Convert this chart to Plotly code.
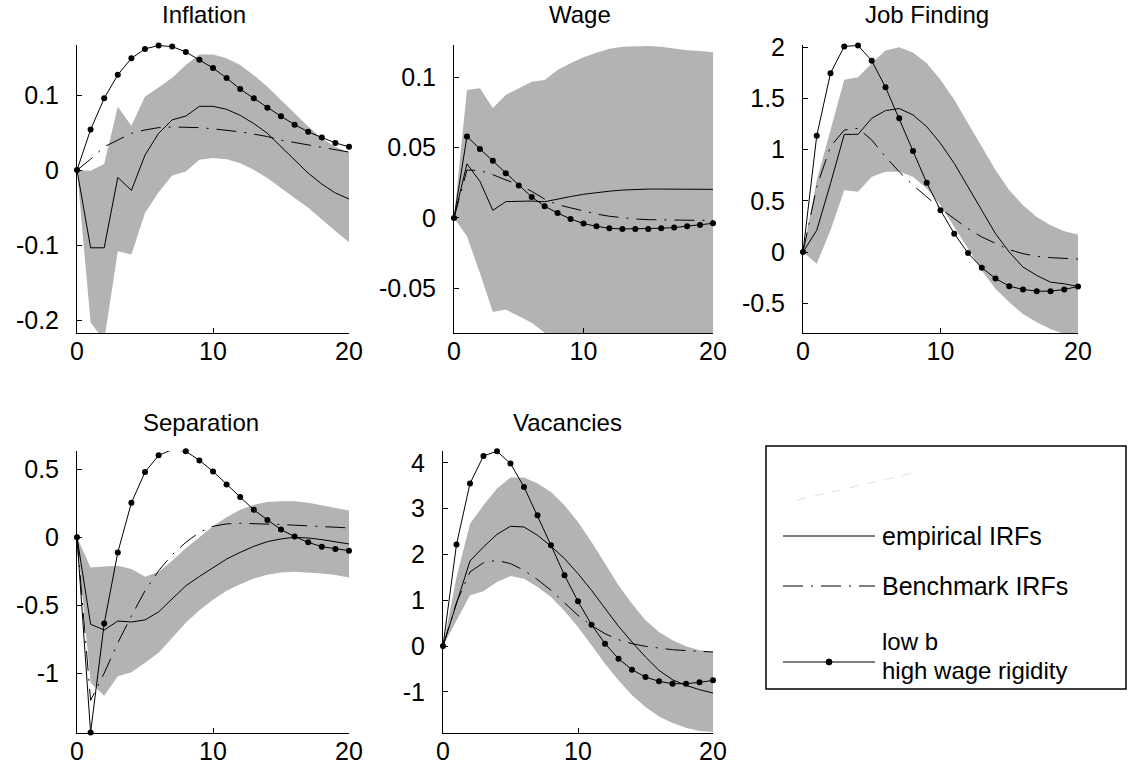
import plotly.graph_objects as go

W, H = 1128, 773
t = list(range(21))

# ---------------- data ----------------
infl_emp = [0, -0.1035, -0.1035, -0.0097, -0.027, 0.020, 0.049, 0.067, 0.072, 0.085, 0.085,
            0.081, 0.073, 0.062, 0.049, 0.031, 0.0137, -0.004, -0.0186, -0.0305, -0.0385]
infl_bench = [0, 0.0146, 0.031, 0.040, 0.049, 0.0535, 0.0566, 0.0575, 0.0575, 0.0566, 0.055,
              0.0535, 0.051, 0.048, 0.0447, 0.040, 0.0367, 0.033, 0.030, 0.027, 0.024]
infl_lowb = [0, 0.054, 0.0956, 0.127, 0.149, 0.1615, 0.166, 0.1646, 0.1575, 0.147, 0.136,
             0.1226, 0.108, 0.0956, 0.0832, 0.0717, 0.0606, 0.051, 0.0434, 0.0363, 0.031]
infl_up = [0, -0.001, 0.008, 0.0845, 0.059, 0.098, 0.110, 0.123, 0.140, 0.154, 0.154,
           0.149, 0.140, 0.1265, 0.111, 0.093, 0.0757, 0.058, 0.0425, 0.031, 0.0235]
infl_lo = [0, -0.203, -0.227, -0.108, -0.1125, -0.057, -0.0296, -0.007, -0.002, 0.0137, 0.016,
           0.0146, 0.0093, 0.0004, -0.0106, -0.024, -0.037, -0.050, -0.066, -0.081, -0.096]

wage_emp = [0, 0.0384, 0.026, 0.0054, 0.0116, 0.0118, 0.012, 0.0115, 0.0135, 0.0152, 0.0168,
            0.018, 0.019, 0.0198, 0.0203, 0.0205, 0.0205, 0.0205, 0.0203, 0.0203, 0.0203]
wage_bench = [0, 0.034, 0.0337, 0.0307, 0.027, 0.0236, 0.0189, 0.0134, 0.0094, 0.0071, 0.0047,
              0.0028, 0.0012, 0.0, -0.0007, -0.0012, -0.0014, -0.0017, -0.0017, -0.0017, -0.0017]
wage_lowb = [0, 0.0578, 0.049, 0.0406, 0.0318, 0.0231, 0.0149, 0.0083, 0.0035, -0.0007, -0.004,
             -0.0059, -0.0073, -0.0078, -0.0078, -0.0078, -0.0073, -0.0068, -0.0059, -0.005, -0.0038]
wage_up = [0, 0.0908, 0.092, 0.078, 0.0873, 0.092, 0.0967, 0.0979, 0.105, 0.1097, 0.114,
           0.1172, 0.120, 0.1215, 0.122, 0.122, 0.1215, 0.120, 0.119, 0.1184, 0.1175]
wage_lo = [0, -0.013, -0.039, -0.0667, -0.065, -0.0696, -0.0743, -0.0814, -0.0861, -0.088, -0.088,
           -0.088, -0.088, -0.088, -0.088, -0.088, -0.088, -0.088, -0.086, -0.084, -0.0815]

jf_emp = [0, 0.212, 0.669, 1.148, 1.148, 1.305, 1.38, 1.40, 1.338, 1.223, 1.06,
          0.865, 0.636, 0.408, 0.179, 0.0, -0.147, -0.228, -0.294, -0.31, -0.336]
jf_bench = [0, 0.636, 1.03, 1.19, 1.207, 1.093, 0.93, 0.783, 0.652, 0.538, 0.424,
            0.326, 0.228, 0.147, 0.082, 0.023, -0.016, -0.042, -0.055, -0.065, -0.068]
jf_lowb = [0, 1.135, 1.745, 2.006, 2.016, 1.866, 1.608, 1.305, 0.985, 0.675, 0.408,
           0.179, -0.01, -0.153, -0.258, -0.333, -0.365, -0.382, -0.382, -0.365, -0.336]
jf_up = [0, 0.70, 1.19, 1.68, 1.706, 1.843, 1.967, 1.997, 1.948, 1.843, 1.68,
         1.485, 1.256, 1.028, 0.80, 0.604, 0.457, 0.343, 0.261, 0.202, 0.17]
jf_lo = [0, -0.114, 0.212, 0.604, 0.587, 0.734, 0.783, 0.783, 0.734, 0.62, 0.457,
         0.245, 0.033, -0.179, -0.359, -0.489, -0.604, -0.685, -0.75, -0.80, -0.83]

sep_emp = [0, -0.64, -0.682, -0.616, -0.623, -0.608, -0.549, -0.456, -0.357, -0.288, -0.222,
           -0.16, -0.111, -0.0665, -0.032, -0.012, 0.0, -0.005, -0.017, -0.032, -0.049]
sep_bench = [0, -1.2, -1.0, -0.776, -0.579, -0.394, -0.246, -0.128, -0.037, 0.037, 0.081,
             0.0985, 0.103, 0.101, 0.0985, 0.094, 0.089, 0.084, 0.079, 0.074, 0.069]
sep_lowb = [0, -1.436, -0.635, -0.111, 0.254, 0.48, 0.603, 0.645, 0.633, 0.566, 0.485,
            0.389, 0.296, 0.202, 0.128, 0.057, 0.005, -0.037, -0.069, -0.086, -0.0985]
sep_up = [0, -0.222, -0.214, -0.209, -0.234, -0.29, -0.254, -0.172, -0.081, 0.0, 0.081,
          0.148, 0.202, 0.239, 0.259, 0.266, 0.266, 0.254, 0.234, 0.217, 0.197]
sep_lo = [0, -1.071, -1.165, -1.022, -0.993, -0.924, -0.85, -0.739, -0.628, -0.537, -0.46,
          -0.394, -0.345, -0.303, -0.276, -0.259, -0.254, -0.259, -0.266, -0.278, -0.296]

vac_emp = [0, 0.95, 1.858, 2.164, 2.44, 2.616, 2.60, 2.419, 2.18, 1.909, 1.581,
           1.217, 0.816, 0.43, 0.087, -0.24, -0.532, -0.736, -0.86, -0.954, -1.027]
vac_bench = [0, 0.95, 1.62, 1.82, 1.87, 1.80, 1.654, 1.45, 1.217, 0.94, 0.67,
             0.45, 0.27, 0.138, 0.051, -0.007, -0.05, -0.08, -0.10, -0.117, -0.13]
vac_lowb = [0, 2.22, 3.55, 4.153, 4.255, 3.985, 3.475, 2.856, 2.20, 1.545, 0.976,
            0.466, 0.051, -0.277, -0.517, -0.678, -0.772, -0.823, -0.823, -0.794, -0.75]
vac_up = [0, 1.5, 2.67, 3.075, 3.44, 3.68, 3.68, 3.55, 3.366, 3.075, 2.71,
          2.273, 1.80, 1.326, 0.925, 0.561, 0.306, 0.124, -0.007, -0.095, -0.131]
vac_lo = [0, 0.56, 1.107, 1.195, 1.40, 1.53, 1.47, 1.29, 1.07, 0.765, 0.415,
          0.015, -0.386, -0.75, -1.078, -1.333, -1.537, -1.683, -1.785, -1.858, -1.88]

titles = ["Inflation", "Wage", "Job Finding", "Separation", "Vacancies"]
x_ticks = [0, 10, 20]
x_ticktext = ["0", "10", "20"]
y_ticks = [[-0.2, -0.1, 0, 0.1], [-0.05, 0, 0.05, 0.1], [-0.5, 0, 0.5, 1, 1.5, 2],
           [-1, -0.5, 0, 0.5], [-1, 0, 1, 2, 3, 4]]
y_ticktext = [["-0.2", "-0.1", "0", "0.1"], ["-0.05", "0", "0.05", "0.1"],
              ["-0.5", "0", "0.5", "1", "1.5", "2"], ["-1", "-0.5", "0", "0.5"],
              ["-1", "0", "1", "2", "3", "4"]]
legend_labels = ["empirical IRFs", "Benchmark IRFs", "low b", "high wage rigidity"]

panels = [
    (infl_emp, infl_bench, infl_lowb, infl_up, infl_lo),
    (wage_emp, wage_bench, wage_lowb, wage_up, wage_lo),
    (jf_emp, jf_bench, jf_lowb, jf_up, jf_lo),
    (sep_emp, sep_bench, sep_lowb, sep_up, sep_lo),
    (vac_emp, vac_bench, vac_lowb, vac_up, vac_lo),
]

# ---------------- layout geometry (pixels) ----------------
boxes = [  # left, right, top, bottom
    (77, 349, 45, 333),
    (454, 713, 45, 333),
    (803, 1078, 45, 333),
    (77, 349, 451, 733),
    (443, 713, 451, 733),
]
y_ranges = [(-0.217, 0.1667), (-0.0816, 0.1227), (-0.79, 2.02), (-1.44, 0.635), (-1.9, 4.26)]
title_pos = [(204, 14), (580, 14), (927, 14), (201, 423), (567, 423)]

def px(x):
    return x / W

def py(y):
    return 1 - y / H

FONT = "Liberation Sans, Arial, Helvetica, sans-serif"
BAND = "rgb(179,179,179)"
DASHDOT = "20px,8px,2px,8px"
TICK_SIZE = 25
TITLE_SIZE = 24
LEG_SIZE = 25

fig = go.Figure()
layout = dict(template="none", width=W, height=H, margin=dict(l=0, r=0, t=0, b=0, pad=0),
              autosize=False, paper_bgcolor="white", plot_bgcolor="white", showlegend=False,
              font=dict(family=FONT, color="black", size=TICK_SIZE))

annotations = []
for i, (emp, bench, lowb, up, lo) in enumerate(panels):
    k = "" if i == 0 else str(i + 1)
    xa, ya = "x" + k, "y" + k
    fig.add_trace(go.Scatter(x=t + t[::-1], y=up + lo[::-1], fill="toself", fillcolor=BAND,
                             line=dict(width=0), mode="lines", hoverinfo="skip",
                             xaxis=xa, yaxis=ya))
    fig.add_trace(go.Scatter(x=t, y=bench, mode="lines",
                             line=dict(color="black", width=1, dash=DASHDOT),
                             xaxis=xa, yaxis=ya))
    fig.add_trace(go.Scatter(x=t, y=emp, mode="lines", line=dict(color="black", width=1),
                             xaxis=xa, yaxis=ya))
    fig.add_trace(go.Scatter(x=t, y=lowb, mode="lines+markers",
                             line=dict(color="black", width=1),
                             marker=dict(color="black", size=6),
                             xaxis=xa, yaxis=ya, cliponaxis=False))
    l, r, tp, bt = boxes[i]
    layout["xaxis" + k] = dict(domain=[px(l), px(r)], range=[0, 20], anchor=ya,
                               automargin=False,
                               showgrid=False, zeroline=False, showline=True,
                               linecolor="black", linewidth=1, mirror=False,
                               ticks="inside", ticklen=5, tickcolor="black",
                               tickvals=x_ticks, ticktext=x_ticktext,
                               ticklabelstandoff=-4, tickfont=dict(size=TICK_SIZE, family=FONT))
    layout["yaxis" + k] = dict(domain=[py(bt), py(tp)], range=list(y_ranges[i]), anchor=xa,
                               automargin=False,
                               showgrid=False, zeroline=False, showline=True,
                               linecolor="black", linewidth=1, mirror=False,
                               ticks="inside", ticklen=5, tickcolor="black",
                               tickvals=y_ticks[i], ticktext=y_ticktext[i],
                               ticklabelstandoff=12, tickfont=dict(size=TICK_SIZE, family=FONT))
    tx, ty = title_pos[i]
    annotations.append(dict(text=titles[i], x=px(tx), y=py(ty), xref="paper", yref="paper",
                            showarrow=False, xanchor="center", yanchor="middle",
                            font=dict(size=TITLE_SIZE, family=FONT)))

# ---------------- legend (drawn manually) ----------------
shapes = [
    dict(type="rect", xref="paper", yref="paper", x0=px(766), x1=px(1126), y0=py(689), y1=py(446),
         line=dict(color="black", width=1.5), fillcolor="rgba(0,0,0,0)"),
    dict(type="line", xref="paper", yref="paper", x0=px(797), y0=py(500), x1=px(917), y1=py(472),
         line=dict(color="rgb(225,225,225)", width=1, dash="dash")),
    dict(type="line", xref="paper", yref="paper", x0=px(783), y0=py(536), x1=px(875), y1=py(536),
         line=dict(color="black", width=1)),
    dict(type="line", xref="paper", yref="paper", x0=px(783), y0=py(586), x1=px(875), y1=py(586),
         line=dict(color="black", width=1, dash=DASHDOT)),
    dict(type="line", xref="paper", yref="paper", x0=px(783), y0=py(662), x1=px(875), y1=py(662),
         line=dict(color="black", width=1)),
    dict(type="circle", xref="paper", yref="paper", x0=px(826), y0=py(665), x1=px(832), y1=py(659),
         line=dict(color="black", width=1), fillcolor="black"),
]
legend_text_pos = [(880, 536, LEG_SIZE), (880, 586, LEG_SIZE), (880, 641, 24), (880, 670, 24)]
for lab, (lx, ly, fs) in zip(legend_labels, legend_text_pos):
    annotations.append(dict(text=lab, x=px(lx), y=py(ly), xref="paper", yref="paper",
                            showarrow=False, xanchor="left", yanchor="middle",
                            font=dict(size=fs, family=FONT)))

layout["annotations"] = annotations
layout["shapes"] = shapes
fig.update_layout(**layout)
fig.write_html("out.html")
